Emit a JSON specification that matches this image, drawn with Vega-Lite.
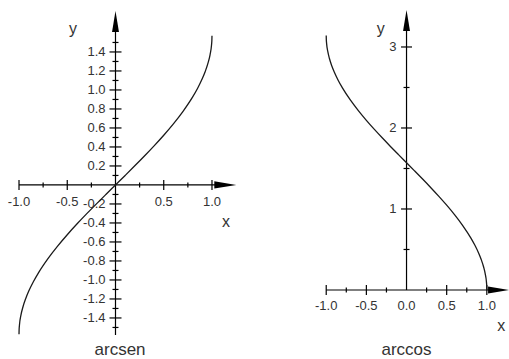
{
  "$schema": "https://vega.github.io/schema/vega-lite/v6.json",
  "padding": 0,
  "spacing": 9,
  "config": {
    "view": {"stroke": null},
    "text": {"font": "Liberation Sans", "color": "#333"}
  },
  "datasets": {
    "single": [{}],
    "asin": [
      {"x": -1, "y": -1.5708}, {"x": -0.999, "y": -1.5261}, {"x": -0.995, "y": -1.4708},
      {"x": -0.98, "y": -1.3705}, {"x": -0.96, "y": -1.287}, {"x": -0.93, "y": -1.1944},
      {"x": -0.9, "y": -1.1198}, {"x": -0.85, "y": -1.016}, {"x": -0.8, "y": -0.9273},
      {"x": -0.7, "y": -0.7754}, {"x": -0.6, "y": -0.6435}, {"x": -0.5, "y": -0.5236},
      {"x": -0.4, "y": -0.4115}, {"x": -0.3, "y": -0.3047}, {"x": -0.2, "y": -0.2014},
      {"x": -0.1, "y": -0.1002}, {"x": 0, "y": 0}, {"x": 0.1, "y": 0.1002},
      {"x": 0.2, "y": 0.2014}, {"x": 0.3, "y": 0.3047}, {"x": 0.4, "y": 0.4115},
      {"x": 0.5, "y": 0.5236}, {"x": 0.6, "y": 0.6435}, {"x": 0.7, "y": 0.7754},
      {"x": 0.8, "y": 0.9273}, {"x": 0.85, "y": 1.016}, {"x": 0.9, "y": 1.1198},
      {"x": 0.93, "y": 1.1944}, {"x": 0.96, "y": 1.287}, {"x": 0.98, "y": 1.3705},
      {"x": 0.995, "y": 1.4708}, {"x": 0.999, "y": 1.5261}, {"x": 1, "y": 1.5708}
    ],
    "acos": [
      {"x": -1, "y": 3.1416}, {"x": -0.999, "y": 3.0969}, {"x": -0.995, "y": 3.0416},
      {"x": -0.98, "y": 2.9413}, {"x": -0.96, "y": 2.8578}, {"x": -0.93, "y": 2.7652},
      {"x": -0.9, "y": 2.6906}, {"x": -0.85, "y": 2.5868}, {"x": -0.8, "y": 2.4981},
      {"x": -0.7, "y": 2.3462}, {"x": -0.6, "y": 2.2143}, {"x": -0.5, "y": 2.0944},
      {"x": -0.4, "y": 1.9823}, {"x": -0.3, "y": 1.8755}, {"x": -0.2, "y": 1.7722},
      {"x": -0.1, "y": 1.671}, {"x": 0, "y": 1.5708}, {"x": 0.1, "y": 1.4706},
      {"x": 0.2, "y": 1.3694}, {"x": 0.3, "y": 1.2661}, {"x": 0.4, "y": 1.1593},
      {"x": 0.5, "y": 1.0472}, {"x": 0.6, "y": 0.9273}, {"x": 0.7, "y": 0.7954},
      {"x": 0.8, "y": 0.6435}, {"x": 0.85, "y": 0.5548}, {"x": 0.9, "y": 0.451},
      {"x": 0.93, "y": 0.3764}, {"x": 0.96, "y": 0.2838}, {"x": 0.98, "y": 0.2003},
      {"x": 0.995, "y": 0.1}, {"x": 0.999, "y": 0.0447}, {"x": 1, "y": 0}
    ],
    "asinXTicks": [
      {"v": -1, "kind": "major", "label": "-1.0"}, {"v": -0.75, "kind": "minor"},
      {"v": -0.5, "kind": "major", "label": "-0.5"}, {"v": -0.25, "kind": "minor"},
      {"v": 0.25, "kind": "minor"}, {"v": 0.5, "kind": "major", "label": "0.5"},
      {"v": 0.75, "kind": "minor"}, {"v": 1, "kind": "major", "label": "1.0"}
    ],
    "asinYTicks": [
      {"v": -1.5, "kind": "minor"}, {"v": -1.4, "kind": "major", "label": "-1.4"},
      {"v": -1.3, "kind": "minor"}, {"v": -1.2, "kind": "major", "label": "-1.2"},
      {"v": -1.1, "kind": "minor"}, {"v": -1.0, "kind": "major", "label": "-1.0"},
      {"v": -0.9, "kind": "minor"}, {"v": -0.8, "kind": "major", "label": "-0.8"},
      {"v": -0.7, "kind": "minor"}, {"v": -0.6, "kind": "major", "label": "-0.6"},
      {"v": -0.5, "kind": "minor"}, {"v": -0.4, "kind": "major", "label": "-0.4"},
      {"v": -0.3, "kind": "minor"}, {"v": -0.2, "kind": "major", "label": "-0.2"},
      {"v": -0.1, "kind": "minor"}, {"v": 0.1, "kind": "minor"},
      {"v": 0.2, "kind": "major", "label": "0.2"}, {"v": 0.3, "kind": "minor"},
      {"v": 0.4, "kind": "major", "label": "0.4"}, {"v": 0.5, "kind": "minor"},
      {"v": 0.6, "kind": "major", "label": "0.6"}, {"v": 0.7, "kind": "minor"},
      {"v": 0.8, "kind": "major", "label": "0.8"}, {"v": 0.9, "kind": "minor"},
      {"v": 1.0, "kind": "major", "label": "1.0"}, {"v": 1.1, "kind": "minor"},
      {"v": 1.2, "kind": "major", "label": "1.2"}, {"v": 1.3, "kind": "minor"},
      {"v": 1.4, "kind": "major", "label": "1.4"}, {"v": 1.5, "kind": "minor"}
    ],
    "acosXTicks": [
      {"v": -1, "kind": "major", "label": "-1.0"}, {"v": -0.75, "kind": "minor"},
      {"v": -0.5, "kind": "major", "label": "-0.5"}, {"v": -0.25, "kind": "minor"},
      {"v": 0, "kind": "origin", "label": "0.0"},
      {"v": 0.25, "kind": "minor"}, {"v": 0.5, "kind": "major", "label": "0.5"},
      {"v": 0.75, "kind": "minor"}, {"v": 1, "kind": "major", "label": "1.0"}
    ],
    "acosYTicks": [
      {"v": 0.5, "kind": "minor"}, {"v": 1, "kind": "major", "label": "1"},
      {"v": 1.5, "kind": "minor"}, {"v": 2, "kind": "major", "label": "2"},
      {"v": 2.5, "kind": "minor"}, {"v": 3, "kind": "major", "label": "3"}
    ]
  },
  "hconcat": [
    {
      "width": 250,
      "height": 359,
      "layer": [
        {
          "data": {"name": "single"},
          "mark": {"type": "rule", "color": "#000", "strokeWidth": 1.2},
          "encoding": {
            "x": {"datum": -1, "type": "quantitative", "scale": {"domain": [-1.197, 1.394], "nice": false, "zero": false}, "axis": null},
            "x2": {"datum": 1.138},
            "y": {"datum": 0, "type": "quantitative", "scale": {"domain": [-1.832, 1.947], "nice": false, "zero": false}, "axis": null}
          }
        },
        {
          "data": {"name": "single"},
          "mark": {"type": "rule", "color": "#000", "strokeWidth": 1.2},
          "encoding": {
            "x": {"datum": 0, "type": "quantitative", "scale": {"domain": [-1.197, 1.394], "nice": false, "zero": false}, "axis": null},
            "y": {"datum": -1.58, "type": "quantitative", "scale": {"domain": [-1.832, 1.947], "nice": false, "zero": false}, "axis": null},
            "y2": {"datum": 1.72}
          }
        },
        {
          "data": {"name": "asinXTicks"},
          "transform": [{"filter": "datum.kind === 'major'"}],
          "mark": {"type": "tick", "orient": "vertical", "size": 10, "thickness": 1.2, "color": "#000", "opacity": 1},
          "encoding": {
            "x": {"field": "v", "type": "quantitative", "scale": {"domain": [-1.197, 1.394], "nice": false, "zero": false}, "axis": null},
            "y": {"datum": 0, "type": "quantitative", "scale": {"domain": [-1.832, 1.947], "nice": false, "zero": false}, "axis": null}
          }
        },
        {
          "data": {"name": "asinXTicks"},
          "transform": [{"filter": "datum.kind === 'minor'"}],
          "mark": {"type": "tick", "orient": "vertical", "size": 5, "thickness": 1.2, "color": "#000", "opacity": 1},
          "encoding": {
            "x": {"field": "v", "type": "quantitative", "scale": {"domain": [-1.197, 1.394], "nice": false, "zero": false}, "axis": null},
            "y": {"datum": 0, "type": "quantitative", "scale": {"domain": [-1.832, 1.947], "nice": false, "zero": false}, "axis": null}
          }
        },
        {
          "data": {"name": "asinYTicks"},
          "transform": [{"filter": "datum.kind === 'major'"}],
          "mark": {"type": "tick", "orient": "horizontal", "size": 12, "thickness": 1.2, "color": "#000", "opacity": 1},
          "encoding": {
            "x": {"datum": 0, "type": "quantitative", "scale": {"domain": [-1.197, 1.394], "nice": false, "zero": false}, "axis": null},
            "y": {"field": "v", "type": "quantitative", "scale": {"domain": [-1.832, 1.947], "nice": false, "zero": false}, "axis": null}
          }
        },
        {
          "data": {"name": "asinYTicks"},
          "transform": [{"filter": "datum.kind === 'minor'"}],
          "mark": {"type": "tick", "orient": "horizontal", "size": 6, "thickness": 1.2, "color": "#000", "opacity": 1},
          "encoding": {
            "x": {"datum": 0, "type": "quantitative", "scale": {"domain": [-1.197, 1.394], "nice": false, "zero": false}, "axis": null},
            "y": {"field": "v", "type": "quantitative", "scale": {"domain": [-1.832, 1.947], "nice": false, "zero": false}, "axis": null}
          }
        },
        {
          "data": {"name": "asinXTicks"},
          "transform": [{"filter": "datum.kind === 'major'"}],
          "mark": {"type": "text", "fontSize": 13, "align": "center", "baseline": "middle", "dy": 17},
          "encoding": {
            "x": {"field": "v", "type": "quantitative", "scale": {"domain": [-1.197, 1.394], "nice": false, "zero": false}, "axis": null},
            "y": {"datum": 0, "type": "quantitative", "scale": {"domain": [-1.832, 1.947], "nice": false, "zero": false}, "axis": null},
            "text": {"field": "label"}
          }
        },
        {
          "data": {"name": "asinYTicks"},
          "transform": [{"filter": "datum.kind === 'major'"}],
          "mark": {"type": "text", "fontSize": 13, "align": "right", "baseline": "middle", "dx": -10},
          "encoding": {
            "x": {"datum": 0, "type": "quantitative", "scale": {"domain": [-1.197, 1.394], "nice": false, "zero": false}, "axis": null},
            "y": {"field": "v", "type": "quantitative", "scale": {"domain": [-1.832, 1.947], "nice": false, "zero": false}, "axis": null},
            "text": {"field": "label"}
          }
        },
        {
          "data": {"name": "asin"},
          "mark": {"type": "line", "color": "#1a1a1a", "strokeWidth": 1.3, "interpolate": "monotone"},
          "encoding": {
            "x": {"field": "x", "type": "quantitative", "scale": {"domain": [-1.197, 1.394], "nice": false, "zero": false}, "axis": null},
            "y": {"field": "y", "type": "quantitative", "scale": {"domain": [-1.832, 1.947], "nice": false, "zero": false}, "axis": null}
          }
        },
        {
          "data": {"name": "single"},
          "mark": {"type": "point", "shape": "M-0.33,1L0,-1L0.33,1Z", "size": 441, "filled": true, "color": "#000", "opacity": 1, "strokeWidth": 0},
          "encoding": {
            "x": {"datum": 0, "type": "quantitative", "scale": {"domain": [-1.197, 1.394], "nice": false, "zero": false}, "axis": null},
            "y": {"datum": 1.721, "type": "quantitative", "scale": {"domain": [-1.832, 1.947], "nice": false, "zero": false}, "axis": null}
          }
        },
        {
          "data": {"name": "single"},
          "mark": {"type": "point", "shape": "M-1,-0.33L1,0L-1,0.33Z", "size": 484, "filled": true, "color": "#000", "opacity": 1, "strokeWidth": 0},
          "encoding": {
            "x": {"datum": 1.138, "type": "quantitative", "scale": {"domain": [-1.197, 1.394], "nice": false, "zero": false}, "axis": null},
            "y": {"datum": 0, "type": "quantitative", "scale": {"domain": [-1.832, 1.947], "nice": false, "zero": false}, "axis": null}
          }
        },
        {
          "data": {"name": "single"},
          "mark": {"type": "text", "text": "y", "fontSize": 16, "align": "center", "baseline": "middle"},
          "encoding": {
            "x": {"datum": -0.44, "type": "quantitative", "scale": {"domain": [-1.197, 1.394], "nice": false, "zero": false}, "axis": null},
            "y": {"datum": 1.64, "type": "quantitative", "scale": {"domain": [-1.832, 1.947], "nice": false, "zero": false}, "axis": null}
          }
        },
        {
          "data": {"name": "single"},
          "mark": {"type": "text", "text": "x", "fontSize": 16, "align": "center", "baseline": "middle"},
          "encoding": {
            "x": {"datum": 1.145, "type": "quantitative", "scale": {"domain": [-1.197, 1.394], "nice": false, "zero": false}, "axis": null},
            "y": {"datum": -0.39, "type": "quantitative", "scale": {"domain": [-1.832, 1.947], "nice": false, "zero": false}, "axis": null}
          }
        },
        {
          "data": {"name": "single"},
          "mark": {"type": "text", "text": "arcsen", "fontSize": 17, "align": "center", "baseline": "middle"},
          "encoding": {
            "x": {"datum": 0.047, "type": "quantitative", "scale": {"domain": [-1.197, 1.394], "nice": false, "zero": false}, "axis": null},
            "y": {"datum": -1.737, "type": "quantitative", "scale": {"domain": [-1.832, 1.947], "nice": false, "zero": false}, "axis": null}
          }
        }
      ]
    },
    {
      "width": 250,
      "height": 359,
      "layer": [
        {
          "data": {"name": "single"},
          "mark": {"type": "rule", "color": "#000", "strokeWidth": 1.2},
          "encoding": {
            "x": {"datum": -1, "type": "quantitative", "scale": {"domain": [-1.837, 1.276], "nice": false, "zero": false}, "axis": null},
            "x2": {"datum": 1.146},
            "y": {"datum": 0, "type": "quantitative", "scale": {"domain": [-0.852, 3.58], "nice": false, "zero": false}, "axis": null}
          }
        },
        {
          "data": {"name": "single"},
          "mark": {"type": "rule", "color": "#000", "strokeWidth": 1.2},
          "encoding": {
            "x": {"datum": 0, "type": "quantitative", "scale": {"domain": [-1.837, 1.276], "nice": false, "zero": false}, "axis": null},
            "y": {"datum": 0, "type": "quantitative", "scale": {"domain": [-0.852, 3.58], "nice": false, "zero": false}, "axis": null},
            "y2": {"datum": 3.327}
          }
        },
        {
          "data": {"name": "acosXTicks"},
          "transform": [{"filter": "datum.kind === 'major'"}],
          "mark": {"type": "tick", "orient": "vertical", "size": 10, "thickness": 1.2, "color": "#000", "opacity": 1},
          "encoding": {
            "x": {"field": "v", "type": "quantitative", "scale": {"domain": [-1.837, 1.276], "nice": false, "zero": false}, "axis": null},
            "y": {"datum": 0, "type": "quantitative", "scale": {"domain": [-0.852, 3.58], "nice": false, "zero": false}, "axis": null}
          }
        },
        {
          "data": {"name": "acosXTicks"},
          "transform": [{"filter": "datum.kind === 'minor'"}],
          "mark": {"type": "tick", "orient": "vertical", "size": 5, "thickness": 1.2, "color": "#000", "opacity": 1},
          "encoding": {
            "x": {"field": "v", "type": "quantitative", "scale": {"domain": [-1.837, 1.276], "nice": false, "zero": false}, "axis": null},
            "y": {"datum": 0, "type": "quantitative", "scale": {"domain": [-0.852, 3.58], "nice": false, "zero": false}, "axis": null}
          }
        },
        {
          "data": {"name": "acosYTicks"},
          "transform": [{"filter": "datum.kind === 'major'"}],
          "mark": {"type": "tick", "orient": "horizontal", "size": 11, "thickness": 1.2, "color": "#000", "opacity": 1},
          "encoding": {
            "x": {"datum": 0, "type": "quantitative", "scale": {"domain": [-1.837, 1.276], "nice": false, "zero": false}, "axis": null},
            "y": {"field": "v", "type": "quantitative", "scale": {"domain": [-0.852, 3.58], "nice": false, "zero": false}, "axis": null}
          }
        },
        {
          "data": {"name": "acosYTicks"},
          "transform": [{"filter": "datum.kind === 'minor'"}],
          "mark": {"type": "tick", "orient": "horizontal", "size": 6, "thickness": 1.2, "color": "#000", "opacity": 1},
          "encoding": {
            "x": {"datum": 0, "type": "quantitative", "scale": {"domain": [-1.837, 1.276], "nice": false, "zero": false}, "axis": null},
            "y": {"field": "v", "type": "quantitative", "scale": {"domain": [-0.852, 3.58], "nice": false, "zero": false}, "axis": null}
          }
        },
        {
          "data": {"name": "acosXTicks"},
          "transform": [{"filter": "datum.kind !== 'minor'"}],
          "mark": {"type": "text", "fontSize": 13, "align": "center", "baseline": "middle", "dy": 16.5},
          "encoding": {
            "x": {"field": "v", "type": "quantitative", "scale": {"domain": [-1.837, 1.276], "nice": false, "zero": false}, "axis": null},
            "y": {"datum": 0, "type": "quantitative", "scale": {"domain": [-0.852, 3.58], "nice": false, "zero": false}, "axis": null},
            "text": {"field": "label"}
          }
        },
        {
          "data": {"name": "acosYTicks"},
          "transform": [{"filter": "datum.kind === 'major'"}],
          "mark": {"type": "text", "fontSize": 13, "align": "right", "baseline": "middle", "dx": -10},
          "encoding": {
            "x": {"datum": 0, "type": "quantitative", "scale": {"domain": [-1.837, 1.276], "nice": false, "zero": false}, "axis": null},
            "y": {"field": "v", "type": "quantitative", "scale": {"domain": [-0.852, 3.58], "nice": false, "zero": false}, "axis": null},
            "text": {"field": "label"}
          }
        },
        {
          "data": {"name": "acos"},
          "mark": {"type": "line", "color": "#1a1a1a", "strokeWidth": 1.3, "interpolate": "monotone"},
          "encoding": {
            "x": {"field": "x", "type": "quantitative", "scale": {"domain": [-1.837, 1.276], "nice": false, "zero": false}, "axis": null},
            "y": {"field": "y", "type": "quantitative", "scale": {"domain": [-0.852, 3.58], "nice": false, "zero": false}, "axis": null}
          }
        },
        {
          "data": {"name": "single"},
          "mark": {"type": "point", "shape": "M-0.33,1L0,-1L0.33,1Z", "size": 441, "filled": true, "color": "#000", "opacity": 1, "strokeWidth": 0},
          "encoding": {
            "x": {"datum": 0, "type": "quantitative", "scale": {"domain": [-1.837, 1.276], "nice": false, "zero": false}, "axis": null},
            "y": {"datum": 3.327, "type": "quantitative", "scale": {"domain": [-0.852, 3.58], "nice": false, "zero": false}, "axis": null}
          }
        },
        {
          "data": {"name": "single"},
          "mark": {"type": "point", "shape": "M-1,-0.33L1,0L-1,0.33Z", "size": 441, "filled": true, "color": "#000", "opacity": 1, "strokeWidth": 0},
          "encoding": {
            "x": {"datum": 1.146, "type": "quantitative", "scale": {"domain": [-1.837, 1.276], "nice": false, "zero": false}, "axis": null},
            "y": {"datum": 0, "type": "quantitative", "scale": {"domain": [-0.852, 3.58], "nice": false, "zero": false}, "axis": null}
          }
        },
        {
          "data": {"name": "single"},
          "mark": {"type": "text", "text": "y", "fontSize": 16, "align": "center", "baseline": "middle"},
          "encoding": {
            "x": {"datum": -0.32, "type": "quantitative", "scale": {"domain": [-1.837, 1.276], "nice": false, "zero": false}, "axis": null},
            "y": {"datum": 3.22, "type": "quantitative", "scale": {"domain": [-0.852, 3.58], "nice": false, "zero": false}, "axis": null}
          }
        },
        {
          "data": {"name": "single"},
          "mark": {"type": "text", "text": "x", "fontSize": 16, "align": "center", "baseline": "middle"},
          "encoding": {
            "x": {"datum": 1.18, "type": "quantitative", "scale": {"domain": [-1.837, 1.276], "nice": false, "zero": false}, "axis": null},
            "y": {"datum": -0.45, "type": "quantitative", "scale": {"domain": [-0.852, 3.58], "nice": false, "zero": false}, "axis": null}
          }
        },
        {
          "data": {"name": "single"},
          "mark": {"type": "text", "text": "arccos", "fontSize": 17, "align": "center", "baseline": "middle"},
          "encoding": {
            "x": {"datum": 0, "type": "quantitative", "scale": {"domain": [-1.837, 1.276], "nice": false, "zero": false}, "axis": null},
            "y": {"datum": -0.74, "type": "quantitative", "scale": {"domain": [-0.852, 3.58], "nice": false, "zero": false}, "axis": null}
          }
        }
      ]
    }
  ]
}
